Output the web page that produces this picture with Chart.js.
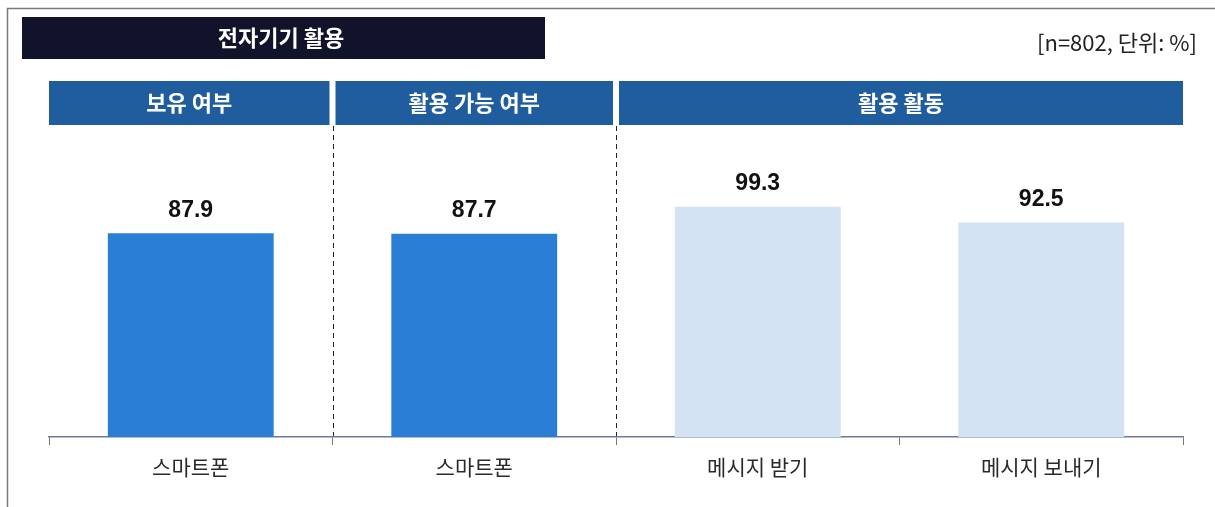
<!DOCTYPE html>
<html>
<head>
<meta charset="utf-8">
<script src="https://cdn.jsdelivr.net/npm/chart.js@4"></script>
<style>
  html, body { margin: 0; padding: 0; background: #fff; }
  #wrap { position: relative; width: 1215px; height: 507px; }
</style>
</head>
<body>
<div id="wrap"><canvas id="myChart" width="1215" height="507"></canvas></div>
<script>
// data
var categories = ["스마트폰", "스마트폰", "메시지 받기", "메시지 보내기"];
var values = [87.9, 87.7, 99.3, 92.5];
var barColors = ["#2a7fd4", "#2a7fd4", "#d3e3f4", "#d3e3f4"];
var groupLabels = ["보유 여부", "활용 가능 여부", "활용 활동"];
var groupSpans = [1, 1, 2];
var titleText = "전자기기 활용";
var noteText = "[n=802, 단위: %]";

var KR = "'Noto Sans CJK KR', 'Noto Sans', sans-serif";

// frame, title box, group headers, dashed separators
var decoPlugin = {
  id: "deco",
  beforeDraw: function (chart) {
    var c = chart.ctx;
    var x = chart.scales.x;
    var area = chart.chartArea;
    c.save();
    // outer frame (top + left only)
    c.strokeStyle = "#7a7a7a";
    c.lineWidth = 1.5;
    c.beginPath();
    c.moveTo(7.5, 507);
    c.lineTo(7.5, 8.5);
    c.lineTo(1215, 8.5);
    c.stroke();

    // title box
    c.fillStyle = "#11132b";
    c.fillRect(22, 17, 523, 42);
    c.fillStyle = "#ffffff";
    c.font = "bold 22px " + KR;
    c.textAlign = "center";
    c.textBaseline = "middle";
    c.fillText(titleText, 281, 38);

    // note
    c.fillStyle = "#222222";
    c.font = "22px " + KR;
    c.textAlign = "right";
    c.fillText(noteText, 1197, 43);

    // group headers
    var idx = 0;
    for (var g = 0; g < groupLabels.length; g++) {
      var left = x.getPixelForValue(idx - 0.5);
      var right = x.getPixelForValue(idx + groupSpans[g] - 0.5);
      var l = g === 0 ? left : left + 3;
      var r = g === groupLabels.length - 1 ? right : right - 3;
      c.fillStyle = "#1f5d9f";
      c.fillRect(l, 81, r - l, 44);
      c.fillStyle = "#ffffff";
      c.font = "bold 22px " + KR;
      c.textAlign = "center";
      c.fillText(groupLabels[g], (l + r) / 2, 103);
      idx += groupSpans[g];
      if (g < groupLabels.length - 1) {
        c.strokeStyle = "#222222";
        c.lineWidth = 1;
        c.setLineDash([5, 4]);
        c.beginPath();
        c.moveTo(Math.round(right) + 0.5, 126);
        c.lineTo(Math.round(right) + 0.5, area.bottom);
        c.stroke();
        c.setLineDash([]);
      }
    }
    c.restore();
  },
  afterDatasetsDraw: function (chart) {
    var c = chart.ctx;
    var meta = chart.getDatasetMeta(0);
    c.save();
    c.fillStyle = "#111111";
    c.font = "bold 23px 'Liberation Sans', Arial, sans-serif";
    c.textAlign = "center";
    c.textBaseline = "middle";
    meta.data.forEach(function (bar, i) {
      c.fillText(values[i].toFixed(1), bar.x, bar.y - 23);
    });
    c.restore();
  }
};

var ctx = document.getElementById("myChart").getContext("2d");
var myChart = new Chart(ctx, {
  type: "bar",
  data: {
    labels: categories,
    datasets: [
      {
        data: values,
        backgroundColor: barColors,
        borderWidth: 0,
        categoryPercentage: 1,
        barPercentage: 0.585,
      },
    ],
  },
  options: {
    responsive: false,
    animation: false,
    events: [],
    layout: { padding: { left: 49, right: 32, top: 182, bottom: 0 } },
    plugins: { legend: { display: false }, tooltip: { enabled: false } },
    scales: {
      x: {
        afterFit: function (s) { s.height = 70; },
        grid: {
          offset: true,
          drawOnChartArea: false,
          drawTicks: true,
          tickLength: 8,
          color: "#777777",
        },
        border: { display: true, color: "#6b7a99", width: 1.5 },
        ticks: {
          padding: 9,
          color: "#2a2a2a",
          font: { family: KR, size: 21 },
        },
      },
      y: {
        display: false,
        min: 0,
        max: 110,
      },
    },
  },
  plugins: [decoPlugin],
});
</script>
</body>
</html>
